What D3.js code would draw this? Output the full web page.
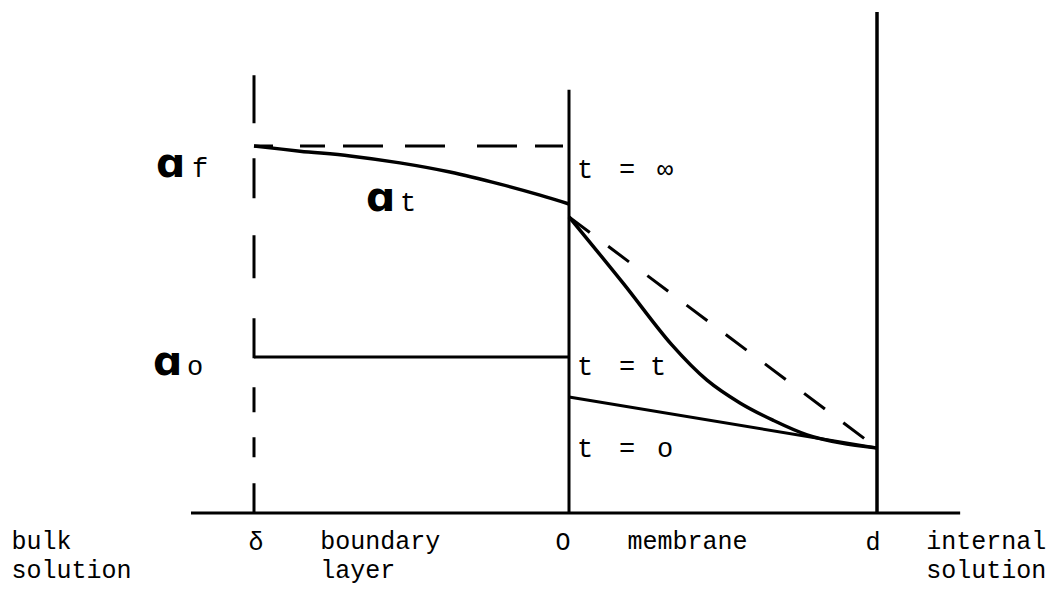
<!DOCTYPE html>
<html>
<head>
<meta charset="utf-8">
<script src="https://cdn.jsdelivr.net/npm/d3@7"></script>
<style>
  html, body { margin: 0; padding: 0; background: #fff; }
  svg { display: block; }
  .mono { font-family: "Liberation Mono", "DejaVu Sans Mono", monospace; fill: #000; }
  .sym { font-family: "DejaVu Sans", sans-serif; font-weight: bold; fill: #000; }
</style>
</head>
<body>
<svg id="chart" width="1060" height="589"></svg>
<script>
// Position across the system: δ = -1 (bulk / boundary layer edge), 0 = membrane face, d = 1 (inner face)
const xTicks = [-1, 0, 1];
const xTickLabels = ["δ", "O", "d"];

// Concentration levels (relative to the feed activity a_f)
const aFeed = 1.0;
const aInitial = 0.425;

// Boundary layer profile a_t between δ and 0
const boundaryX = [-1, -0.854, -0.695, -0.537, -0.378, -0.219, -0.092, 0];
const boundaryA = [1.0, 0.986, 0.973, 0.954, 0.929, 0.896, 0.866, 0.842];

// Membrane profiles between 0 and d
const membraneX = [0, 0.175, 0.334, 0.448, 0.555, 0.662, 0.773, 0.880, 1];
const membraneTransient = [0.807, 0.627, 0.458, 0.362, 0.300, 0.253, 0.213, 0.191, 0.177];
const membraneEndsX = [0, 1];
const membraneSteady = [0.807, 0.177];   // t = ∞
const membraneStart = [0.316, 0.177];    // t = 0

// Time labels inside the membrane
const timeLabels = ["∞", "t", "o"];
const timeLabelLevels = [0.913, 0.376, 0.153];

// Region captions under the axis
const regionLines = [["bulk", "solution"], ["boundary", "layer"], ["membrane"], ["internal", "solution"]];
const regionAnchors = [-1.77, -0.79, 0.19, 1.16];

const svg = d3.select("#chart");

const x = d3.scaleLinear().domain([-1, 0, 1]).range([254, 569, 877]);
const y = d3.scaleLinear().domain([0, 1]).range([513, 146]);

const ink = "#000";
const line = d3.line().x(d => x(d[0])).y(d => y(d[1]));
const smooth = d3.line().x(d => x(d[0])).y(d => y(d[1])).curve(d3.curveCatmullRom.alpha(0.5));
const zip = (xs, ys) => xs.map((v, i) => [v, ys[i]]);

// Horizontal position axis
svg.append("line")
  .attr("x1", x(-1.2)).attr("x2", x(1.27))
  .attr("y1", y(0)).attr("y2", y(0))
  .attr("stroke", ink).attr("stroke-width", 3);

// δ boundary (dashed), membrane faces (solid)
svg.append("line")
  .attr("x1", x(-1)).attr("x2", x(-1))
  .attr("y1", y(1.193)).attr("y2", y(0))
  .attr("stroke", ink).attr("stroke-width", 3)
  .attr("stroke-dasharray", "48,35,40,37,43,40,40,29,25,25,20,26,30");
svg.append("line")
  .attr("x1", x(0)).attr("x2", x(0))
  .attr("y1", y(1.153)).attr("y2", y(0))
  .attr("stroke", ink).attr("stroke-width", 3);
svg.append("line")
  .attr("x1", x(1)).attr("x2", x(1))
  .attr("y1", y(1.365)).attr("y2", y(0))
  .attr("stroke", ink).attr("stroke-width", 3.5);

// Feed level a_f (t = ∞) across the boundary layer
svg.append("path")
  .attr("d", line([[-1, aFeed], [0, aFeed]]))
  .attr("fill", "none").attr("stroke", ink).attr("stroke-width", 3)
  .attr("stroke-dasharray", "19,27,25,18,40,22,40,32,40,18,28,6");

// Initial level a_o (t = 0) across the boundary layer
svg.append("path")
  .attr("d", line([[-1, aInitial], [0, aInitial]]))
  .attr("fill", "none").attr("stroke", ink).attr("stroke-width", 3);

// a_t profile in the boundary layer
svg.append("path")
  .attr("d", smooth(zip(boundaryX, boundaryA)))
  .attr("fill", "none").attr("stroke", ink).attr("stroke-width", 3.5);

// Membrane: steady state (dashed), transient, initial
svg.append("path")
  .attr("d", line(zip(membraneEndsX, membraneSteady)))
  .attr("fill", "none").attr("stroke", ink).attr("stroke-width", 3)
  .attr("stroke-dasharray", "26,23");
svg.append("path")
  .attr("d", smooth(zip(membraneX, membraneTransient)))
  .attr("fill", "none").attr("stroke", ink).attr("stroke-width", 3.5);
svg.append("path")
  .attr("d", line(zip(membraneEndsX, membraneStart)))
  .attr("fill", "none").attr("stroke", ink).attr("stroke-width", 3);

// Activity symbols
function activityLabel(px, py, sub, subDx) {
  const g = svg.append("g");
  g.append("text").attr("class", "sym").attr("x", px).attr("y", py)
    .attr("font-size", 41).text("ɑ");
  g.append("text").attr("class", "mono").attr("x", px + subDx).attr("y", py)
    .attr("font-size", 27).text(sub);
}
activityLabel(156, y(aFeed) + 31, "f", 36);
activityLabel(366, y(boundaryA[3]) + 48, "t", 34);
activityLabel(153, y(aInitial) + 18, "o", 34);

// Time labels next to the membrane face
timeLabels.forEach((v, i) => {
  const by = y(timeLabelLevels[i]);
  const g = svg.append("g").attr("class", "mono").attr("font-size", 27).attr("text-anchor", "middle");
  g.append("text").attr("x", x(0) + 16).attr("y", by).text("t");
  g.append("text").attr("x", x(0) + 58).attr("y", by).text("=");
  g.append("text").attr("x", x(0) + (v === "t" ? 89 : 96)).attr("y", by).text(v);
});

// Axis tick labels
svg.selectAll(".tick-label")
  .data(xTicks)
  .join("text")
  .attr("class", "mono tick-label")
  .attr("font-size", 25)
  .attr("text-anchor", "middle")
  .attr("x", (d, i) => x(d) + (i === 0 ? 2 : i === 1 ? -6 : -4))
  .attr("y", 550)
  .text((d, i) => xTickLabels[i]);

// Region captions
regionLines.forEach((lines, i) => {
  const t = svg.append("text").attr("class", "mono").attr("font-size", 25)
    .attr("x", x(regionAnchors[i])).attr("y", 549);
  lines.forEach((s, j) => {
    t.append("tspan").attr("x", x(regionAnchors[i])).attr("dy", j === 0 ? 0 : 29).text(s);
  });
});
</script>
</body>
</html>
